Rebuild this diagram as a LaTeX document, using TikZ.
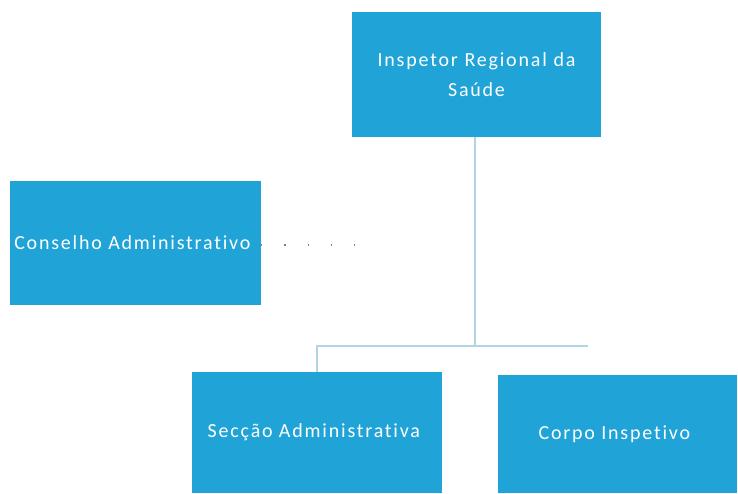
\documentclass[tikz,border=0pt]{standalone}
\usepackage{fontspec}
\setmainfont{Carlito}[LetterSpace=9, Ligatures=NoCommon]
\usetikzlibrary{positioning}
\definecolor{boxblue}{RGB}{32,163,214}
\definecolor{linkblue}{RGB}{178,212,228}

\begin{document}
\begin{tikzpicture}[x=1pt,y=-1pt]
\tikzstyle{every node}=[font=\fontsize{20}{30}\selectfont]
\tikzstyle{unit}=[rectangle, fill=boxblue, text=white, align=center, inner sep=4pt]

\useasboundingbox (0,0) rectangle (738,493);

\node[unit, minimum width=249pt, minimum height=125pt, text width=235pt] at (476.5, 74.5) (inspetor) {
Inspetor Regional da\\ Saúde
};

\node[unit, minimum width=251pt, minimum height=124pt] at (135.5, 243) (conselho) {
Conselho Administrativo
};

\node[unit, minimum width=250pt, minimum height=121pt] at (317, 432.5) (seccao) {
Secção Administrativa
};

\node[unit, minimum width=239pt, minimum height=118pt] at (617.5, 434) (corpo) {
Corpo Inspetivo
};

\coordinate (bus) at (475, 346);
\coordinate (busend) at (588, 346);
\coordinate (linkend) at (375, 245);

\draw[linkblue, line width=1.2pt] (inspetor.south -| bus) -- (bus) -| (seccao.north);
\draw[linkblue, line width=1.2pt] (bus) -- (busend);
\draw[gray, line width=1.2pt, dash pattern=on 1.2pt off 22pt] (conselho.east) ++(0,2) -- (linkend);

\end{tikzpicture}
\end{document}
